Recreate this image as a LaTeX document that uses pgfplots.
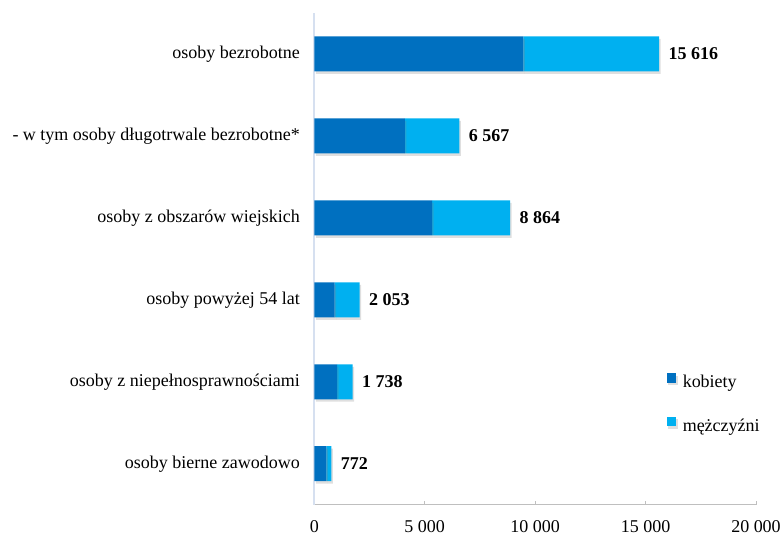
\documentclass[border=0pt]{standalone}
\usepackage{fontspec}
\setmainfont{Liberation Serif}
\usepackage{pgfplots}
\pgfplotsset{compat=1.18}
\usepackage{pgfplotstable}
\usetikzlibrary{shadows}

\definecolor{kob}{HTML}{0070C0}
\definecolor{mez}{HTML}{00B0F0}
\definecolor{leftline}{HTML}{D6E0F0}
\definecolor{botline}{HTML}{BFBFBF}

\newcommand{\fs}{\fontsize{18bp}{21bp}\selectfont}

% idx: 0 = top category; z = tiny segment carrying the total label
\pgfplotstableread{
idx k    m    z t
0   9470 6146 1 15616
1   4100 2467 1 6567
2   5330 3534 1 8864
3   915  1138 1 2053
4   1035 703  1 1738
5   550  222  1 772
}\dane

\begin{document}
\begin{tikzpicture}
\begin{axis}[
    name=ax,
    scale only axis,
    width=442bp, height=492bp,
    xbar stacked, bar width=35bp,
    xmin=0, xmax=20000,
    ymin=-0.5, ymax=5.5, y dir=reverse,
    axis x line*=bottom, axis y line*=left,
    x axis line style={-, draw=botline, line width=0.8bp},
    y axis line style={-, draw=leftline, line width=1.6bp},
    xtick={0,5000,10000,15000,20000},
    xtick style={draw=botline, line width=0.8bp},
    tick align=inside, major tick length=4bp,
    ytick={0,1,2,3,4,5},
    ytick style={draw=none},
    yticklabels={osoby bezrobotne, - w tym osoby długotrwale bezrobotne*, osoby z obszarów wiejskich, osoby powyżej 54 lat, osoby z niepełnosprawnościami, osoby bierne zawodowo},
    yticklabel style={font=\fs, xshift=-11bp},
    xticklabel style={font=\fs, yshift=-12bp},
    /pgf/number format/assume math mode=true,
    /pgf/number format/1000 sep={\ },
    scaled x ticks=false,
    legend style={at={(axis description cs:0.7975,0.2682)}, anchor=north west,
        draw=none, fill=none, inner sep=0pt, row sep=25bp, font=\fs,
        nodes={inner sep=0pt, text height=12bp, text depth=4bp}},
    legend cell align=left,
]
\addplot[draw=none, fill=kob, drop shadow={shadow xshift=1.5bp, shadow yshift=-2.5bp, opacity=0.25},
    legend image code/.code={\fill[kob] (0bp,1.25bp) rectangle (9.5bp,10.75bp); \path (16bp,0bp);}]
    table[x=k, y=idx] {\dane};
\addplot[draw=none, fill=mez, drop shadow={shadow xshift=1.5bp, shadow yshift=-2.5bp, opacity=0.25},
    legend image code/.code={\fill[mez] (0bp,1.25bp) rectangle (9.5bp,10.75bp); \path (16bp,0bp);}]
    table[x=m, y=idx] {\dane};
\addplot[draw=none, fill=none, forget plot,
    point meta=explicit,
    nodes near coords,
    nodes near coords style={font=\fs\bfseries, anchor=west, xshift=6bp, text=black,
        /pgf/number format/.cd, fixed, precision=0, 1000 sep={\ }, assume math mode=true}]
    table[x=z, y=idx, meta=t] {\dane};
\legend{kobiety, mężczyźni}
\end{axis}
\pgfresetboundingbox
\path[use as bounding box] ([xshift=-314.5bp,yshift=-30bp]ax.south west) rectangle ([xshift=28bp,yshift=13bp]ax.north east);
\end{tikzpicture}
\end{document}
